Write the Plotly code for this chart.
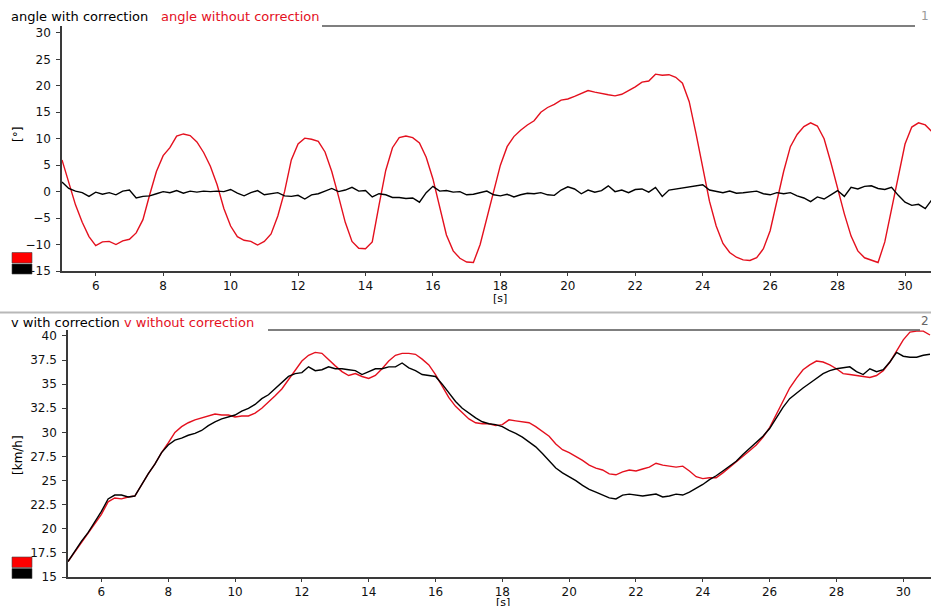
import plotly.graph_objects as go

# ---------------- data ----------------
time_s = [
    5.0, 5.2, 5.4, 5.6, 5.8, 6.0, 6.2, 6.4, 6.6, 6.8,
    7.0, 7.2, 7.4, 7.6, 7.8, 8.0, 8.2, 8.4, 8.6, 8.8,
    9.0, 9.2, 9.4, 9.6, 9.8, 10.0, 10.2, 10.4, 10.6, 10.8,
    11.0, 11.2, 11.4, 11.6, 11.8, 12.0, 12.2, 12.4, 12.6, 12.8,
    13.0, 13.2, 13.4, 13.6, 13.8, 14.0, 14.2, 14.4, 14.6, 14.8,
    15.0, 15.2, 15.4, 15.6, 15.8, 16.0, 16.2, 16.4, 16.6, 16.8,
    17.0, 17.2, 17.4, 17.6, 17.8, 18.0, 18.2, 18.4, 18.6, 18.8,
    19.0, 19.2, 19.4, 19.6, 19.8, 20.0, 20.2, 20.4, 20.6, 20.8,
    21.0, 21.2, 21.4, 21.6, 21.8, 22.0, 22.2, 22.4, 22.6, 22.8,
    23.0, 23.2, 23.4, 23.6, 23.8, 24.0, 24.2, 24.4, 24.6, 24.8,
    25.0, 25.2, 25.4, 25.6, 25.8, 26.0, 26.2, 26.4, 26.6, 26.8,
    27.0, 27.2, 27.4, 27.6, 27.8, 28.0, 28.2, 28.4, 28.6, 28.8,
    29.0, 29.2, 29.4, 29.6, 29.8, 30.0, 30.2, 30.4, 30.6, 30.8,
]

angle_with_correction = [
    1.8, 0.6, 0.1, -0.2, -0.9, -0.1, -0.5, -0.2, -0.6, 0.1,
    0.3, -1.2, -0.9, -0.8, -0.4, 0.0, -0.2, 0.2, -0.3, 0.1,
    -0.1, 0.1, 0.0, 0.1, 0.0, 0.4, -0.3, -0.8, -0.2, 0.2,
    -0.6, -0.4, -0.2, -0.8, -0.9, -0.7, -1.4, -0.6, -0.4, 0.1,
    0.6, 0.0, 0.3, 0.8, 0.1, 0.2, -1.0, -0.4, -0.6, -1.1,
    -1.1, -1.3, -1.2, -2.0, -0.2, 1.0, 0.1, 0.2, -0.1, 0.0,
    -0.6, -0.5, -0.2, 0.1, -0.6, -0.8, -0.5, -1.0, -0.6, -0.3,
    -0.4, -0.2, -0.6, -0.7, 0.3, 0.9, 0.5, -0.4, 0.3, -0.1,
    0.2, 1.1, 0.0, 0.3, -0.2, 0.4, 0.5, -0.1, 0.8, -0.9,
    0.3, 0.5, 0.6, 0.9, 1.0, 1.3, 0.3, 0.0, -0.2, 0.1,
    -0.3, -0.2, -0.1, 0.1, -0.4, -0.6, -0.2, -0.4, -0.2, -0.8,
    -1.2, -1.9, -1.0, -1.4, -0.6, 0.2, -0.9, 0.8, 0.5, 1.0,
    1.1, 0.6, 0.4, 0.8, -0.7, -2.0, -2.6, -2.4, -3.2, -1.5,
]

angle_without_correction = [
    6.0, 1.5, -2.5, -5.8, -8.5, -10.2, -9.5, -9.4, -10.0, -9.3,
    -9.0, -7.8, -5.3, -0.6, 3.8, 6.8, 8.3, 10.5, 10.9, 10.6,
    9.4, 7.4, 4.8, 1.3, -3.2, -6.5, -8.5, -9.2, -9.4, -10.1,
    -9.4, -8.0, -4.6, 0.0, 6.0, 9.0, 10.1, 9.9, 9.5, 7.5,
    3.8, -0.9, -5.8, -9.4, -10.7, -10.8, -9.5, -2.6, 4.0, 8.3,
    10.2, 10.5, 10.2, 9.2, 6.5, 2.4, -3.2, -8.2, -11.2, -12.6,
    -13.3, -13.4, -10.0, -5.0, 0.3, 5.0, 8.5, 10.4, 11.6, 12.6,
    13.4, 15.0, 15.9, 16.5, 17.3, 17.5, 18.0, 18.5, 19.1, 18.8,
    18.5, 18.3, 18.1, 18.4, 19.1, 19.8, 20.7, 20.9, 22.2, 22.0,
    22.1, 21.6, 20.5, 17.0, 11.0, 4.5, -1.8, -6.5, -9.8, -11.5,
    -12.4, -12.9, -13.0, -12.5, -10.8, -7.4, -1.8, 3.8, 8.5, 10.8,
    12.3, 13.0, 12.4, 10.0, 5.5, 0.5, -4.2, -8.4, -11.2, -12.5,
    -13.0, -13.4, -9.5, -3.5, 2.5, 9.0, 12.2, 13.0, 12.6, 11.3,
]

v_with_correction = [
    16.6, 17.7, 18.7, 19.6, 20.7, 21.8, 23.1, 23.5, 23.5, 23.3,
    23.4, 24.6, 25.7, 26.7, 27.9, 28.7, 29.2, 29.4, 29.7, 29.9,
    30.2, 30.7, 31.1, 31.4, 31.6, 31.8, 32.2, 32.5, 32.9, 33.5,
    33.9, 34.5, 35.1, 35.8, 36.1, 36.2, 36.8, 36.4, 36.5, 36.8,
    36.6, 36.6, 36.5, 36.4, 36.0, 36.3, 36.6, 36.6, 36.8, 36.8,
    37.2, 36.7, 36.4, 36.0, 35.9, 35.8, 35.0, 34.1, 33.2, 32.5,
    32.0, 31.5, 31.1, 30.9, 30.8, 30.6, 30.2, 29.9, 29.5, 29.0,
    28.5, 27.8, 27.1, 26.3, 25.8, 25.4, 25.0, 24.5, 24.1, 23.8,
    23.5, 23.2, 23.1, 23.5, 23.6, 23.5, 23.4, 23.5, 23.6, 23.3,
    23.4, 23.6, 23.5, 23.8, 24.2, 24.6, 25.1, 25.5, 26.0, 26.5,
    27.0, 27.7, 28.3, 28.9, 29.6, 30.4, 31.5, 32.6, 33.5, 34.1,
    34.6, 35.1, 35.6, 36.1, 36.4, 36.6, 36.7, 36.8, 36.3, 36.0,
    36.6, 36.3, 36.5, 37.3, 38.3, 37.9, 37.8, 37.8, 38.0, 38.1,
]

v_without_correction = [
    16.6, 17.6, 18.5, 19.5, 20.5, 21.5, 22.8, 23.2, 23.1, 23.3,
    23.4, 24.6, 25.7, 26.7, 27.9, 28.9, 30.0, 30.6, 31.0, 31.3,
    31.5, 31.7, 31.9, 31.8, 31.8, 31.6, 31.7, 31.7, 32.0, 32.5,
    33.1, 33.8, 34.5, 35.5, 36.4, 37.4, 38.0, 38.3, 38.2, 37.5,
    36.9, 36.3, 35.9, 36.1, 35.8, 35.6, 35.9, 36.6, 37.4, 38.0,
    38.2, 38.2, 38.1, 37.6, 37.0, 36.0, 34.8, 33.6, 32.7, 32.0,
    31.4, 31.0, 30.9, 30.9, 30.7, 30.8, 31.3, 31.2, 31.1, 31.0,
    30.6, 30.1, 29.6, 28.8, 28.2, 27.9, 27.5, 27.1, 26.6, 26.3,
    26.1, 25.7, 25.6, 25.9, 26.1, 26.0, 26.2, 26.4, 26.8, 26.6,
    26.5, 26.4, 26.5, 26.0, 25.4, 25.2, 25.3, 25.3, 25.8, 26.4,
    26.9, 27.5, 28.1, 28.7, 29.5, 30.5, 31.9, 33.3, 34.6, 35.6,
    36.5, 37.0, 37.4, 37.3, 37.0, 36.6, 36.1, 36.0, 35.9, 35.8,
    35.7, 35.9, 36.4, 37.3, 38.5, 39.6, 40.4, 40.5, 40.5, 40.1,
]

x_ticks = [6, 8, 10, 12, 14, 16, 18, 20, 22, 24, 26, 28, 30]
angle_ticks = [-15, -10, -5, 0, 5, 10, 15, 20, 25, 30]
v_ticks = [15, 17.5, 20, 22.5, 25, 27.5, 30, 32.5, 35, 37.5, 40]
v_tick_text = ["15", "17.5", "20", "22.5", "25", "27.5", "30", "32.5", "35", "37.5", "40"]

# ---------------- styling ----------------
W, H = 931, 606
RED = "#e4101e"
BLACK = "#000000"
AXIS = "#3a3a3a"
FONT = "DejaVu Sans"


def px(x):
    return x / W


def py(y):
    return 1 - y / H


fig = go.Figure()
fig.add_trace(go.Scatter(x=time_s, y=angle_without_correction, mode="lines",
                         line=dict(color=RED, width=1.4), xaxis="x", yaxis="y"))
fig.add_trace(go.Scatter(x=time_s, y=angle_with_correction, mode="lines",
                         line=dict(color=BLACK, width=1.4), xaxis="x", yaxis="y"))
fig.add_trace(go.Scatter(x=time_s, y=v_without_correction, mode="lines",
                         line=dict(color=RED, width=1.4), xaxis="x2", yaxis="y2"))
fig.add_trace(go.Scatter(x=time_s, y=v_with_correction, mode="lines",
                         line=dict(color=BLACK, width=1.4), xaxis="x2", yaxis="y2"))

axis_common = dict(showgrid=False, zeroline=False, showline=True, linecolor=AXIS,
                   linewidth=1.5, ticks="outside", tickcolor=AXIS,
                   tickfont=dict(family=FONT, size=12, color="#111"), fixedrange=True)

fig.update_layout(
    width=W, height=H, margin=dict(l=0, r=0, t=0, b=0, autoexpand=False),
    paper_bgcolor="white", plot_bgcolor="white", showlegend=False,
    xaxis=dict(domain=[px(62), 1], range=[5.0, 30.77], tickvals=x_ticks,
               anchor="y", ticklen=3, **axis_common),
    yaxis=dict(domain=[py(271), py(26)], range=[-15, 31.3], tickvals=angle_ticks,
               anchor="x", ticklen=4, ticklabelstandoff=3, **axis_common),
    xaxis2=dict(domain=[px(68), 1], range=[5.0, 30.83], tickvals=x_ticks,
                anchor="y2", ticklen=3, **axis_common),
    yaxis2=dict(domain=[py(577), py(330)], range=[15, 40.62], tickvals=v_ticks,
                ticktext=v_tick_text, anchor="x2", ticklen=4, ticklabelstandoff=3,
                **axis_common),
)

shapes = [
    # frame lines at panel tops
    dict(type="line", xref="paper", yref="paper", x0=px(322), x1=px(915), y0=py(26), y1=py(26),
         line=dict(color="#555", width=1.5)),
    dict(type="line", xref="paper", yref="paper", x0=px(268), x1=px(920), y0=py(330), y1=py(330),
         line=dict(color="#555", width=1.5)),
    # separator between panels
    dict(type="line", xref="paper", yref="paper", x0=0, x1=1, y0=py(312.5), y1=py(312.5),
         line=dict(color="#b8b8b8", width=2)),
    # color swatches
    dict(type="rect", xref="paper", yref="paper", x0=px(12), x1=px(32), y0=py(263), y1=py(252.5),
         fillcolor="#ff0000", line=dict(color="#444", width=0.6)),
    dict(type="rect", xref="paper", yref="paper", x0=px(12), x1=px(32), y0=py(274), y1=py(264),
         fillcolor="#000000", line=dict(color="#444", width=0.6)),
    dict(type="rect", xref="paper", yref="paper", x0=px(12), x1=px(32), y0=py(567.5), y1=py(557),
         fillcolor="#ff0000", line=dict(color="#444", width=0.6)),
    dict(type="rect", xref="paper", yref="paper", x0=px(12), x1=px(32), y0=py(578.5), y1=py(568.5),
         fillcolor="#000000", line=dict(color="#444", width=0.6)),
]
fig.update_layout(shapes=shapes)


def ann(text, x, y, color="#000", size=13, xanchor="left", angle=0, pad=1):
    return dict(text=text, x=px(x), y=py(y), xref="paper", yref="paper", showarrow=False,
                xanchor=xanchor, yanchor="middle", textangle=angle, borderpad=pad,
                font=dict(family=FONT, size=size, color=color))


annotations = [
    ann("angle with correction", 9, 17),
    ann("angle without correction", 159, 17, color=RED),
    ann("1", 931, 16, color="#999", size=12, xanchor="right"),
    ann("v with correction", 9, 322),
    ann("v without correction", 122, 322, color=RED),
    ann("2", 931, 321, color="#666", size=12, xanchor="right"),
    ann("[°]", 18, 135, size=12, xanchor="center", angle=-90),
    ann("[km/h]", 18, 455, size=12, xanchor="center", angle=-90),
    ann("[s]", 500, 299, size=11, xanchor="center", pad=0),
    ann("[s]", 503, 602, size=11, xanchor="center", pad=0),
]
fig.update_layout(annotations=annotations)

fig.write_html(
    "out.html",
    config={"displayModeBar": False},
    post_script="document.body.style.margin='0px';document.body.style.overflow='hidden';",
)
